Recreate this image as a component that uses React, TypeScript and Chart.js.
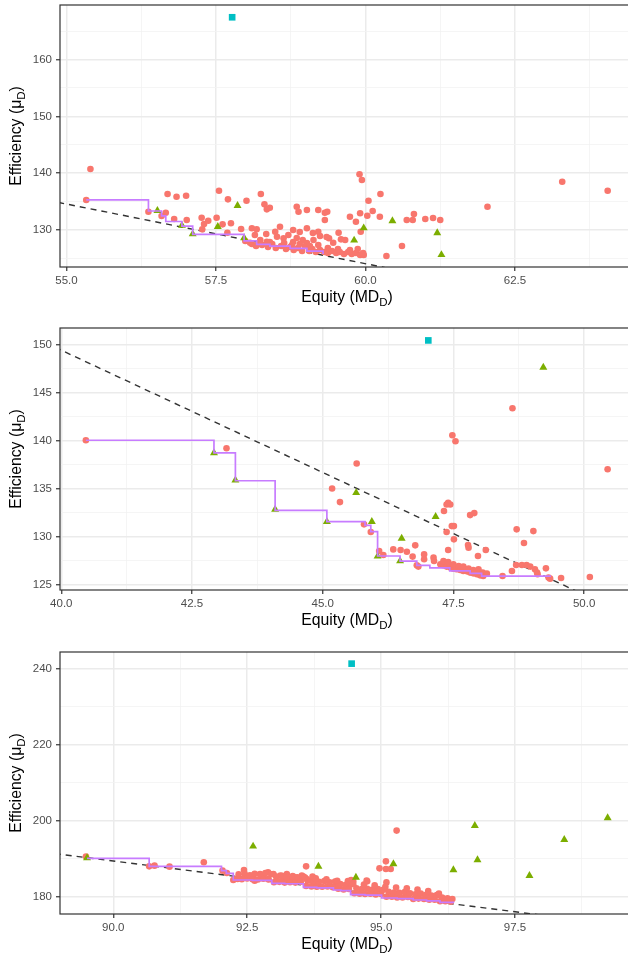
import React, { useEffect, useRef } from 'react';
import { Chart, registerables } from 'chart.js';

Chart.register(...registerables);

type Pt = [number, number];

// ---------------- Panel 1 ----------------
const p1Red: Pt[] = [
  [55.33, 135.28], [55.40, 140.74], [56.37, 133.22], [56.69, 136.34], [56.84, 135.86], [57.00, 136.04],
  [56.66, 133.05], [56.59, 132.46], [56.80, 131.94], [57.01, 131.76], [57.26, 132.17], [57.30, 131.06],
  [57.37, 131.64], [57.27, 130.12], [57.55, 136.92], [57.70, 135.40], [57.51, 132.17], [57.61, 131.00],
  [57.75, 131.18], [57.69, 129.52], [57.92, 130.18], [58.01, 135.16], [58.25, 136.34], [58.31, 134.52],
  [58.35, 133.64], [58.40, 133.93], [58.10, 130.30], [58.18, 130.12], [58.15, 129.12], [58.34, 129.30],
  [57.99, 128.06], [58.07, 127.76], [58.21, 127.54], [58.35, 127.94], [58.49, 129.70], [58.57, 130.58],
  [58.52, 128.82], [58.63, 128.54], [58.71, 129.12], [58.79, 130.00], [58.85, 134.10], [58.88, 133.22],
  [59.02, 133.52], [59.21, 133.52], [59.32, 133.05], [59.36, 133.22], [59.32, 131.76], [59.74, 132.34],
  [59.91, 132.94], [60.03, 132.52], [60.12, 133.35], [60.24, 132.34], [59.84, 131.46], [60.69, 131.76],
  [60.79, 131.76], [60.81, 132.82], [61.00, 131.94], [61.13, 132.11], [61.25, 131.76], [59.90, 139.81],
  [59.94, 138.80], [60.25, 136.34], [60.05, 135.16], [59.92, 129.70], [59.55, 129.52], [59.39, 128.54],
  [59.46, 127.76], [59.59, 128.36], [59.66, 128.24], [60.61, 127.18], [60.35, 125.42], [62.04, 134.10],
  [63.29, 138.50], [64.05, 136.92],
  [58.90, 129.65], [59.02, 130.30], [59.12, 129.47], [59.21, 129.70], [59.24, 128.94], [59.13, 128.24],
  [58.95, 128.24], [58.85, 128.59], [58.79, 127.89], [59.02, 127.71], [59.35, 128.77],
  [58.10, 127.54], [58.17, 127.18], [58.27, 127.36], [58.37, 127.01], [58.44, 127.54], [58.50, 126.83],
  [58.59, 127.18], [58.67, 126.65], [58.74, 127.01], [58.80, 126.48], [58.87, 126.83], [58.94, 126.30],
  [58.99, 127.18], [59.06, 126.30], [59.11, 126.65], [59.17, 126.13], [59.24, 126.48], [59.31, 126.13],
  [59.37, 125.95], [59.44, 126.30], [59.51, 125.95], [59.57, 126.13], [59.64, 125.77], [59.71, 126.13],
  [59.77, 125.77], [59.84, 125.95], [59.91, 125.60], [59.97, 125.60], [58.24, 128.24], [58.40, 127.89],
  [58.64, 127.71], [58.77, 127.36], [58.90, 127.54], [59.07, 127.18], [59.21, 127.36], [59.37, 126.83],
  [59.54, 126.65], [59.74, 126.48], [59.87, 126.65], [59.96, 125.95],
];
const p1Green: Pt[] = [
  [56.52, 133.40], [56.93, 130.80], [57.11, 129.30], [57.53, 130.60], [57.86, 134.30], [57.97, 128.60],
  [59.81, 128.20], [59.97, 130.35], [60.45, 131.60], [61.20, 129.50], [61.27, 125.65],
];
const p1Cyan: Pt[] = [[57.77, 167.45]];
const p1Frontier: Pt[] = [
  [55.33, 135.30], [56.37, 133.35], [56.59, 132.50], [56.66, 131.50], [56.93, 130.70], [57.11, 129.24],
  [57.97, 128.10], [58.18, 127.48], [58.40, 127.18], [58.74, 126.78], [59.02, 126.30], [59.29, 125.77],
];
const p1Ref: Pt[] = [[54.5, 135.62], [61.0, 121.97]];
const p1XMajor = [55, 57.5, 60, 62.5];
const p1XMinor = [56.25, 58.75, 61.25, 63.75];
const p1YMajor = [130, 140, 150, 160];
const p1YMinor = [125, 135, 145, 155, 165];

// ---------------- Panel 2 ----------------
const p2Red: Pt[] = [
  [40.47, 140.04], [43.16, 139.21], [48.63, 143.36], [47.48, 140.56], [47.54, 139.94], [45.65, 137.62],
  [50.45, 137.03], [45.18, 135.03], [45.33, 133.61], [47.37, 133.37], [47.40, 133.55], [47.44, 133.37],
  [47.32, 132.68], [47.82, 132.26], [47.90, 132.47], [47.47, 131.12], [47.51, 131.12], [47.37, 130.50],
  [47.51, 129.74], [47.40, 128.63], [47.78, 129.15], [47.79, 128.88], [47.97, 128.01], [48.12, 128.63],
  [48.71, 130.78], [49.03, 130.60], [48.85, 129.36], [48.70, 127.07], [48.81, 127.07], [48.90, 127.07],
  [48.97, 126.91], [49.06, 126.63], [49.10, 126.29], [49.11, 126.11], [49.27, 126.73], [48.62, 126.45],
  [48.44, 125.93], [49.32, 125.77], [49.35, 125.66], [49.56, 125.73], [50.11, 125.83], [45.79, 131.30],
  [45.92, 130.50], [46.08, 128.53], [46.16, 128.11], [46.35, 128.70], [46.49, 128.63], [46.61, 128.46],
  [46.77, 129.12], [46.72, 127.95], [46.94, 128.18], [46.94, 127.67], [47.12, 127.84], [47.13, 127.49],
  [46.80, 127.04], [46.83, 126.91],
  [47.25, 127.15], [47.31, 127.05], [47.37, 126.91], [47.44, 126.83], [47.50, 126.70], [47.56, 126.63],
  [47.63, 126.56], [47.69, 126.45], [47.76, 126.42], [47.82, 126.29], [47.88, 126.21], [47.95, 126.11],
  [48.01, 126.00], [48.07, 125.93], [48.14, 126.18], [47.31, 127.49], [47.40, 127.39], [47.50, 127.15],
  [47.60, 126.97], [47.69, 126.91], [47.79, 126.70], [47.88, 126.56], [47.98, 126.63], [48.06, 126.29],
];
const p2Green: Pt[] = [
  [49.22, 147.61], [45.64, 134.58], [45.08, 131.58], [45.94, 131.58], [47.16, 132.10], [46.51, 129.84],
  [46.05, 127.98], [46.48, 127.49], [42.92, 138.73], [43.33, 135.89], [44.09, 132.85],
];
const p2Cyan: Pt[] = [[47.02, 150.41]];
const p2Frontier: Pt[] = [
  [40.47, 140.04], [42.92, 138.73], [43.33, 135.83], [44.09, 132.75], [45.08, 131.58], [45.81, 131.19],
  [45.92, 130.54], [46.05, 128.01], [46.48, 127.49], [46.80, 127.04], [47.05, 126.78], [47.43, 126.47],
  [47.82, 126.21], [48.04, 125.93], [49.35, 125.83],
];
const p2Ref: Pt[] = [[39.5, 150.66], [50.5, 122.72]];
const p2XMajor = [40, 42.5, 45, 47.5, 50];
const p2XMinor = [41.25, 43.75, 46.25, 48.75];
const p2YMajor = [125, 130, 135, 140, 145, 150];
const p2YMinor = [127.5, 132.5, 137.5, 142.5, 147.5];

// ---------------- Panel 3 ----------------
const p3Red: Pt[] = [
  [89.49, 190.53], [90.67, 187.97], [90.77, 188.16], [91.05, 187.89], [91.69, 189.03], [92.04, 186.84],
  [92.12, 186.24], [92.24, 184.39], [92.32, 184.66], [92.44, 187.03], [92.46, 185.53], [92.61, 185.53],
  [92.64, 184.21], [92.74, 185.97], [92.80, 185.08], [92.89, 186.39], [92.89, 184.66], [92.99, 185.97],
  [93.05, 184.21], [93.12, 185.53], [93.18, 184.39], [93.24, 185.97], [93.30, 184.66], [93.39, 185.08],
  [93.45, 184.21], [93.52, 185.53], [93.61, 184.66], [93.70, 184.21], [93.72, 185.26], [93.79, 183.76],
  [93.60, 187.97], [95.29, 197.37], [95.09, 189.29], [94.97, 187.45], [95.09, 187.29], [95.18, 187.29],
  [95.10, 183.76], [94.74, 184.03], [94.44, 184.39], [94.48, 184.03], [94.18, 183.50], [94.73, 184.21],
  [92.30, 184.7], [92.34, 185.9], [92.40, 184.6], [92.45, 186.1], [92.50, 184.8], [92.55, 185.6],
  [92.60, 184.6], [92.64, 186.0], [92.70, 184.5], [92.75, 185.8], [92.80, 184.7], [92.84, 186.2],
  [92.90, 184.5], [92.95, 185.9], [93.00, 183.8], [93.04, 185.3], [93.10, 183.9], [93.15, 185.5],
  [93.20, 183.7], [93.24, 185.0], [93.30, 183.8], [93.35, 185.4], [93.40, 183.7], [93.44, 185.1],
  [93.50, 183.9], [93.55, 185.3], [93.60, 182.8], [93.63, 184.2], [93.58, 185.0], [93.70, 182.7],
  [93.74, 184.0], [93.80, 182.6], [93.84, 183.9], [93.78, 184.8], [93.90, 182.6], [93.94, 184.1],
  [94.00, 182.7], [94.04, 183.8], [93.98, 184.6], [94.10, 182.5], [94.14, 184.0], [94.20, 182.1],
  [94.24, 183.3], [94.18, 184.2], [94.30, 181.9], [94.34, 183.1], [94.40, 182.0], [94.44, 183.4],
  [94.38, 184.1], [94.50, 180.9], [94.54, 182.2], [94.48, 183.3], [94.60, 180.8], [94.64, 182.0],
  [94.70, 180.7], [94.74, 182.1], [94.68, 183.2], [94.80, 180.8], [94.84, 181.9], [94.90, 180.6],
  [94.94, 182.0], [94.88, 183.0], [95.00, 180.7], [95.04, 181.8], [95.10, 180.0], [95.14, 181.3],
  [95.08, 182.6], [95.20, 180.0], [95.24, 181.1], [95.30, 179.8], [95.34, 181.0], [95.28, 182.4],
  [95.40, 179.8], [95.44, 181.2], [95.50, 179.9], [95.54, 180.9], [95.48, 182.2], [95.60, 179.4],
  [95.64, 180.6], [95.70, 179.5], [95.74, 180.8], [95.68, 181.9], [95.80, 179.4], [95.84, 180.5],
  [95.90, 179.2], [95.94, 180.3], [95.88, 181.5], [96.00, 179.2], [96.04, 180.4], [96.10, 178.8],
  [96.14, 179.8], [96.08, 180.8], [96.20, 178.8], [96.24, 179.6], [96.30, 178.7], [96.33, 179.4],
];
const p3Green: Pt[] = [
  [89.51, 190.18], [92.61, 193.24], [93.83, 187.97], [94.53, 185.08], [95.23, 188.60], [96.35, 187.03],
  [96.75, 198.68], [96.80, 189.66], [97.77, 185.53], [98.42, 195.00], [99.23, 200.71],
];
const p3Cyan: Pt[] = [[94.45, 241.24]];
const p3Frontier: Pt[] = [
  [89.51, 190.08], [90.67, 187.97], [92.02, 186.84], [92.11, 186.10], [92.24, 184.39], [92.60, 184.30],
  [92.96, 183.50], [93.20, 183.40], [93.55, 182.45], [93.80, 182.30], [94.11, 181.76], [94.25, 181.60],
  [94.43, 180.53], [94.70, 180.40], [95.01, 179.66], [95.30, 179.50], [95.60, 179.13], [95.85, 178.90],
  [96.10, 178.50], [96.35, 178.34],
];
const p3Ref: Pt[] = [[88.5, 192.05], [99.0, 173.36]];
const p3XMajor = [90, 92.5, 95, 97.5];
const p3XMinor = [91.25, 93.75, 96.25, 98.75];
const p3YMajor = [180, 200, 220, 240];
const p3YMinor = [190, 210, 230];

// ---------------- Styling ----------------
const FONT = "'Liberation Sans', Arial, Helvetica, sans-serif";
const RED = '#F8766D';
const GREEN = '#7CAE00';
const CYAN = '#00BFC4';
const PURPLE = '#C77CFF';
const PLOT_TOP = 5;
const PLOT_H = 262;
const AXIS_W = 60;

interface PanelSpec {
  red: Pt[]; green: Pt[]; cyan: Pt[]; frontier: Pt[]; refLine: Pt[];
  xMin: number; xMax: number; yMin: number; yMax: number;
  xMajor: number[]; xMinor: number[]; yMajor: number[]; yMinor: number[];
  top: number; height: number;
}

const panels: PanelSpec[] = [
  { red: p1Red, green: p1Green, cyan: p1Cyan, frontier: p1Frontier, refLine: p1Ref,
    xMin: 54.891, xMax: 64.39, yMin: 123.49, yMax: 169.61,
    xMajor: p1XMajor, xMinor: p1XMinor, yMajor: p1YMajor, yMinor: p1YMinor, top: 0, height: 318 },
  { red: p2Red, green: p2Green, cyan: p2Cyan, frontier: p2Frontier, refLine: p2Ref,
    xMin: 39.975, xMax: 50.84, yMin: 124.48, yMax: 151.7,
    xMajor: p2XMajor, xMinor: p2XMinor, yMajor: p2YMajor, yMinor: p2YMinor, top: 323, height: 318 },
  { red: p3Red, green: p3Green, cyan: p3Cyan, frontier: p3Frontier, refLine: p3Ref,
    xMin: 89.005, xMax: 99.61, yMin: 175.45, yMax: 244.3,
    xMajor: p3XMajor, xMinor: p3XMinor, yMajor: p3YMajor, yMinor: p3YMinor, top: 647, height: 308 },
];

const toXY = (arr: Pt[]) => arr.map(([x, y]) => ({ x, y }));
const has = (arr: number[], v: number) => arr.some((m) => Math.abs(m - v) < 1e-6);

function drawSubText(ctx: CanvasRenderingContext2D, main: string, sub: string, tail: string, cx: number, baseline: number) {
  const mainFont = `15.8px ${FONT}`;
  const subFont = `11.5px ${FONT}`;
  ctx.font = mainFont;
  const w1 = ctx.measureText(main).width;
  const w3 = ctx.measureText(tail).width;
  ctx.font = subFont;
  const w2 = ctx.measureText(sub).width;
  let x = cx - (w1 + w2 + w3) / 2;
  ctx.fillStyle = '#000000';
  ctx.textAlign = 'left';
  ctx.textBaseline = 'alphabetic';
  ctx.font = mainFont;
  ctx.fillText(main, x, baseline);
  x += w1;
  ctx.font = subFont;
  ctx.fillText(sub, x, baseline + 3.5);
  x += w2;
  ctx.font = mainFont;
  ctx.fillText(tail, x, baseline);
}

const framePlugin = {
  id: 'frameAndTitles',
  afterDraw(chart: any) {
    const { ctx, chartArea: a } = chart;
    ctx.save();
    ctx.strokeStyle = '#333333';
    ctx.lineWidth = 1.2;
    ctx.strokeRect(a.left, a.top, a.right - a.left + 3, a.bottom - a.top);
    drawSubText(ctx, 'Equity (MD', 'D', ')', (a.left + a.right) / 2 + 3, a.bottom + 35);
    ctx.translate(0, (a.top + a.bottom) / 2);
    ctx.rotate(-Math.PI / 2);
    drawSubText(ctx, 'Efficiency (\u03bc', 'D', ')', 0, 21);
    ctx.restore();
  },
};

function Panel({ spec }: { spec: PanelSpec }) {
  const ref = useRef<HTMLCanvasElement>(null);
  useEffect(() => {
    const canvas = ref.current;
    if (!canvas) return;
    const xTicks = [...spec.xMajor, ...spec.xMinor].sort((a, b) => a - b);
    const yTicks = [...spec.yMajor, ...spec.yMinor].sort((a, b) => a - b);
    const gridOpts = (major: number[]) => ({
      drawTicks: true,
      tickLength: 4,
      tickWidth: 1.2,
      color: (c: any) => (c.tick && has(major, c.tick.value) ? '#EBEBEB' : '#F3F3F3'),
      lineWidth: (c: any) => (c.tick && has(major, c.tick.value) ? 1.5 : 0.8),
      tickColor: (c: any) => (c.tick && has(major, c.tick.value) ? '#333333' : 'rgba(0,0,0,0)'),
    });
    const tickFont = { family: FONT, size: 11.5 };
    const chart = new Chart(canvas, {
      type: 'scatter',
      data: {
        datasets: [
          {
            label: 'frontier', data: toXY(spec.frontier), showLine: true, stepped: 'before',
            borderColor: PURPLE, borderWidth: 1.7, pointRadius: 0, fill: false, order: 0,
          },
          {
            label: 'ideal', data: toXY(spec.cyan), pointStyle: 'rect', pointRadius: 4.7,
            backgroundColor: CYAN, borderWidth: 0, order: 1,
          },
          {
            label: 'benchmark', data: toXY(spec.green), pointStyle: 'triangle', pointRadius: 4.6,
            backgroundColor: GREEN, borderWidth: 0, order: 2,
          },
          {
            label: 'solutions', data: toXY(spec.red), pointStyle: 'circle', pointRadius: 3.3,
            backgroundColor: RED, borderWidth: 0, order: 3,
          },
          {
            label: 'reference', data: toXY(spec.refLine), showLine: true, borderDash: [6, 5],
            borderColor: '#333333', borderWidth: 1.4, pointRadius: 0, fill: false, order: 4,
          },
        ] as any,
      },
      options: {
        responsive: false,
        animation: false,
        devicePixelRatio: 1,
        events: [],
        layout: { autoPadding: false, padding: { top: PLOT_TOP, left: 0, right: 0, bottom: 0 } },
        plugins: { legend: { display: false }, tooltip: { enabled: false } },
        scales: {
          x: {
            type: 'linear', min: spec.xMin, max: spec.xMax,
            afterBuildTicks: (s: any) => { s.ticks = xTicks.map((v) => ({ value: v })); },
            afterFit: (s: any) => {
              s.height = spec.height - PLOT_TOP - PLOT_H;
              s.paddingLeft = 0; s.paddingRight = 0; s.paddingTop = 0; s.paddingBottom = 0;
            },
            grid: gridOpts(spec.xMajor) as any,
            border: { display: false },
            ticks: {
              autoSkip: false, maxRotation: 0, minRotation: 0, padding: 3, color: '#4D4D4D', font: tickFont,
              callback: (v: any) => (has(spec.xMajor, Number(v)) ? Number(v).toFixed(1) : ''),
            },
          },
          y: {
            type: 'linear', min: spec.yMin, max: spec.yMax,
            afterBuildTicks: (s: any) => { s.ticks = yTicks.map((v) => ({ value: v })); },
            afterFit: (s: any) => {
              s.width = AXIS_W;
              s.paddingLeft = 0; s.paddingRight = 0; s.paddingTop = 0; s.paddingBottom = 0;
            },
            grid: gridOpts(spec.yMajor) as any,
            border: { display: false },
            ticks: {
              autoSkip: false, padding: 4, color: '#4D4D4D', font: tickFont,
              callback: (v: any) => (has(spec.yMajor, Number(v)) ? String(Number(v)) : ''),
            },
          },
        },
      } as any,
      plugins: [framePlugin],
    });
    return () => chart.destroy();
  }, [spec]);
  return (
    <canvas
      ref={ref}
      width={628}
      height={spec.height}
      style={{ position: 'absolute', left: 0, top: spec.top, width: 628, height: spec.height }}
    />
  );
}

export default function App() {
  return (
    <div style={{ position: 'fixed', left: 0, top: 0, width: 628, height: 955, background: '#ffffff', overflow: 'hidden' }}>
      {panels.map((p, i) => (
        <Panel key={i} spec={p} />
      ))}
    </div>
  );
}
